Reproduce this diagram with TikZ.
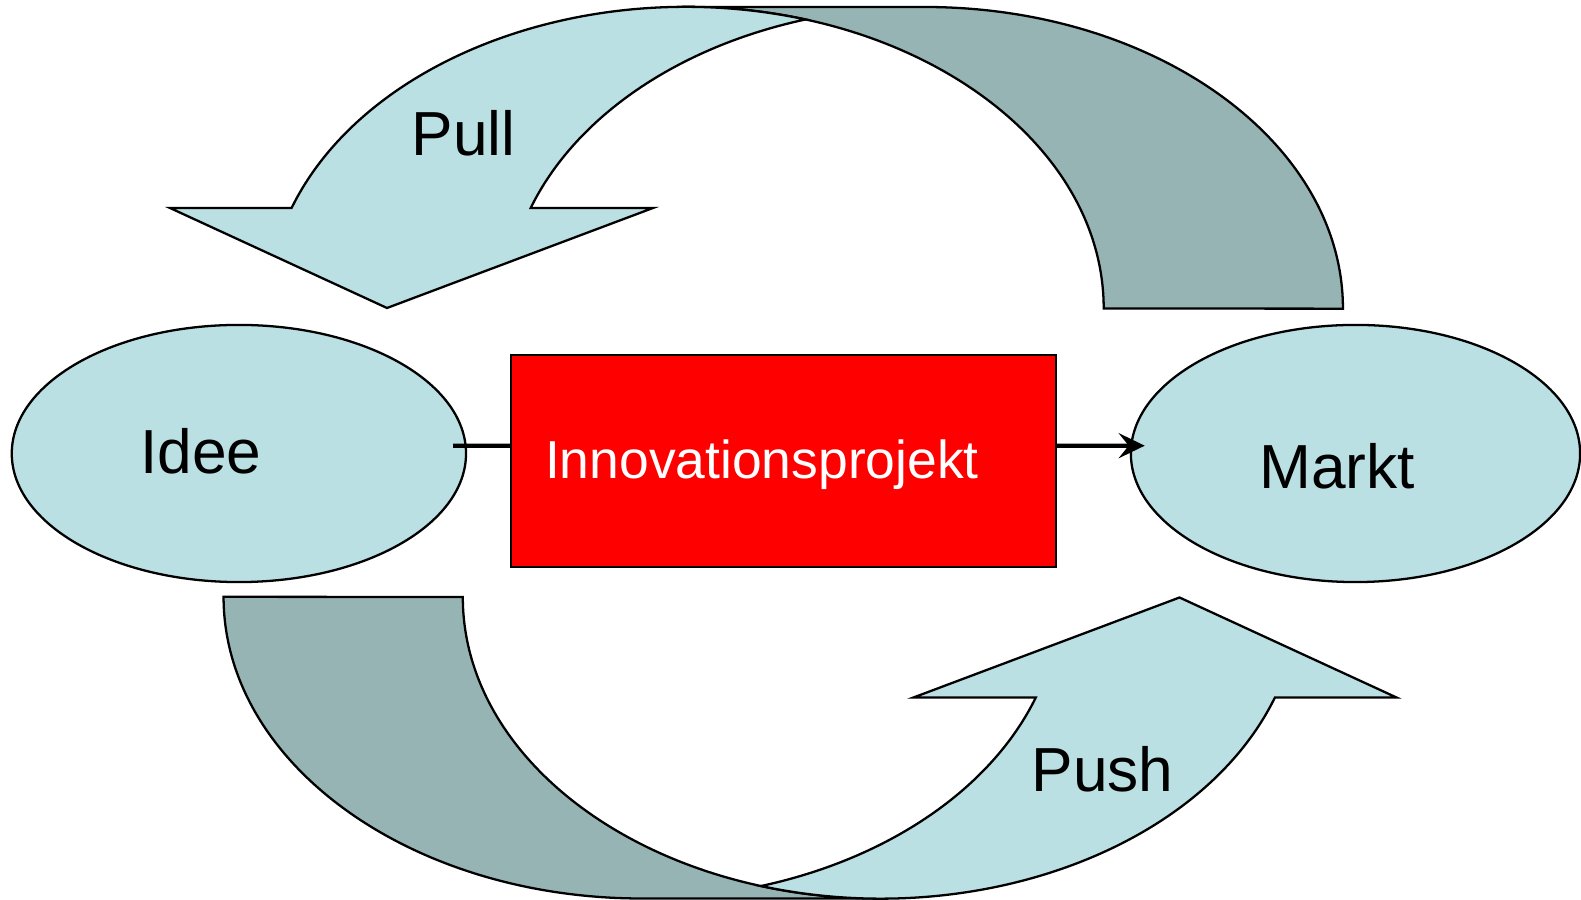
\documentclass[tikz,border=0pt]{standalone}
\usepackage{fontspec}
\setmainfont{Liberation Sans}
\usetikzlibrary{shapes.geometric,arrows.meta}
\definecolor{lightband}{RGB}{186,224,227}
\definecolor{darkband}{RGB}{151,180,181}
\begin{document}
\begin{tikzpicture}[x=0.01cm,y=0.01cm,
  oval/.style={ellipse,draw,fill=lightband,line width=0.65pt,inner sep=0pt,minimum height=2.57cm},
  projbox/.style={rectangle,draw,fill=red,line width=0.6pt,minimum width=5.45cm,minimum height=2.12cm},
  big/.style={font=\fontsize{17.7}{20}\selectfont,anchor=base},
  link/.style={line width=1.2pt},
  backband/.style={fill=darkband,draw,line width=0.65pt},
  frontband/.style={fill=lightband,draw,line width=0.65pt}]

            \useasboundingbox (0,0) rectangle (1581,900);

            % Pull oben, Push unten (gedreht)
            \foreach \ang in {0,180}{
              \begin{scope}[rotate around={\ang:(783.25,447.25)}]
                \draw[backband] (685.7,893) -- (924.7,893)
                  arc[start angle=90,end angle=0,x radius=4.18cm,y radius=3.015cm]
                  -- (1103.7,591.5)
                  arc[start angle=0,end angle=90,x radius=4.18cm,y radius=3.015cm] -- cycle;
                \draw[frontband] (387,592) -- (170,692) -- (291.6,692)
                  arc[start angle=160.53,end angle=73.39,x radius=4.18cm,y radius=3.015cm]
                  arc[start angle=106.61,end angle=160.53,x radius=4.18cm,y radius=3.015cm]
                  -- (653,692) -- cycle;
              \end{scope}
            }
            \node[big] (pull) at (463.6,744) {Pull};
            \node[big] (push) at (1102.6,108.5) {Push};

            \node[oval,minimum width=4.54cm] (idee) at (238.9,446.5) {};
            \node[big] (ideetext) at (200.7,426.7) {Idee};
            \node[oval,minimum width=4.49cm] (markt) at (1355.5,446.5) {};
            \node[big] (markttext) at (1337,411) {Markt};
            \node[projbox] (projekt) at (783.5,439) {};
            \node[font=\fontsize{15.2}{18}\selectfont,anchor=base,text=white] (projekttext) at (762,421) {Innovationsprojekt};

            \draw[link] ([shift={(-14,7.8)}]idee.east) -- ([yshift=0.153cm]projekt.west);
            \draw[link,-{Stealth[length=0.26cm,width=0.25cm,inset=0.1cm]}] ([yshift=0.153cm]projekt.east) -- ([shift={(15,7.8)}]markt.west);
            \end{tikzpicture}
\end{document}
